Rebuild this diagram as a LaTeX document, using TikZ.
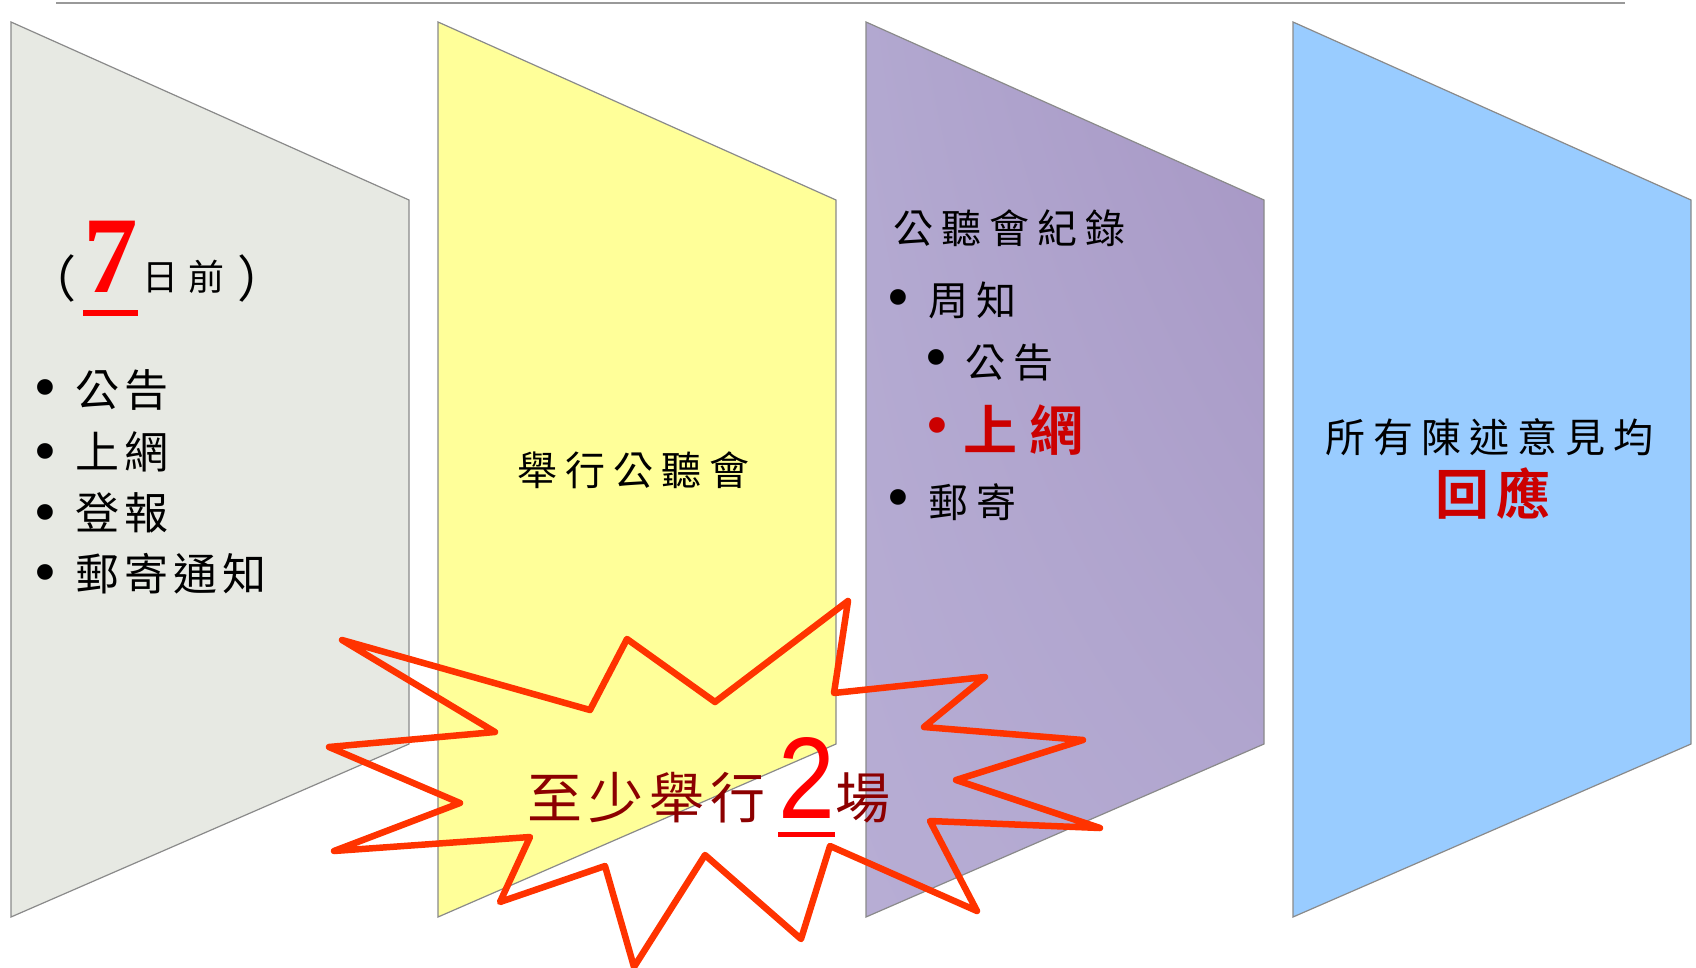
\documentclass[tikz,border=0pt]{standalone}
\usepackage{fontspec}
\usetikzlibrary{shadings}
\setmainfont{Liberation Serif}
\newfontfamily\sansnum{Liberation Sans}
\newfontfamily\bulfont{DejaVu Sans}
\newfontfamily\cjk{Noto Sans CJK TC}
\newfontfamily\cjkA[LetterSpace=20]{Noto Sans CJK TC}
\newfontfamily\cjkB[LetterSpace=12]{Noto Sans CJK TC}
\newfontfamily\cjkC[LetterSpace=28]{Noto Sans CJK TC}
\newfontfamily\cjkD[LetterSpace=11]{Noto Sans CJK TC}
\newfontfamily\cjkBold[LetterSpace=24,UprightFont={* Bold}]{Noto Sans CJK TC}
\newfontfamily\cjkBoldB[LetterSpace=14,UprightFont={* Bold}]{Noto Sans CJK TC}
\definecolor{panelgray}{HTML}{E7E9E3}
\definecolor{panelyellow}{HTML}{FFFF99}
\definecolor{panelblue}{HTML}{99CCFF}
\definecolor{panelborder}{HTML}{8A8A8A}
\definecolor{burstred}{HTML}{FF3300}
\definecolor{numred}{HTML}{FF0000}
\definecolor{hired}{HTML}{CC0000}
\definecolor{darkred}{HTML}{8C0000}
\definecolor{purpUL}{RGB}{178,168,208}
\definecolor{purpUR}{RGB}{166,150,196}
\definecolor{purpLL}{RGB}{183,173,212}
\definecolor{purpLR}{RGB}{178,168,208}
\begin{document}
\begin{tikzpicture}[x=1pt,y=-1pt,
  panel/.style={draw=panelborder, line width=1.2pt},
  txt/.style={inner sep=0pt, outer sep=0pt, anchor=west},
  bul/.style={inner sep=0pt, outer sep=0pt, font=\bulfont\fontsize{54}{54}\selectfont},
  burst/.style={draw=burstred, line width=6.5pt, line join=round},
  uline/.style={line width=6pt, draw=numred},
  fA/.style={font=\cjkA\fontsize{40}{40}\selectfont},
  fB/.style={font=\cjkB\fontsize{44}{44}\selectfont},
  fP/.style={font=\cjk\fontsize{50}{50}\selectfont}]
\useasboundingbox (0,0) rectangle (1696,968);
% top rule
\draw[color=black!40, line width=1.5pt] (56,3) -- (1625,3);
% panels
\path[panel, fill=panelgray] (11,22) -- (409,200) -- (409,744) -- (11,917) -- cycle;
\path[panel, fill=panelyellow] (438,22) -- (836,200) -- (836,744) -- (438,917) -- cycle;
\shade[upper left=purpUL, upper right=purpUR, lower left=purpLL, lower right=purpLR]
  (866,22) -- (1264,200) -- (1264,744) -- (866,917) -- cycle;
\draw[panel] (866,22) -- (1264,200) -- (1264,744) -- (866,917) -- cycle;
\path[panel, fill=panelblue] (1293,22) -- (1691,200) -- (1691,744) -- (1293,917) -- cycle;
% starburst
\draw[burst] (342,640) -- (590,710) -- (627,639) -- (715,702) -- (848,601) -- (834,693)
  -- (985,677) -- (924,727) -- (1083,740) -- (956,780) -- (1100,828) -- (930,821)
  -- (977,911) -- (830,846) -- (801,939) -- (705,855) -- (634,967) -- (605,866)
  -- (500,902) -- (530,837) -- (334,851) -- (460,803) -- (329,747) -- (495,732) -- cycle;
% panel 1
\node[txt, fP] (lp) at (27,279) {（};
\node[inner sep=0pt, anchor=base west, text=numred] (seven) at (83,292) {\fontsize{109}{109}\selectfont\bfseries 7};
\draw[uline] ([yshift=-21pt]seven.base west) -- ([yshift=-21pt]seven.base east);
\node[txt] (days) at (142,277) {\cjkC\fontsize{36}{36}\selectfont 日前};
\node[txt, fP] (rp) at (237,279) {）};
\node[bul] (b11) at (45,394) {•};
\node[txt, fB] (t11) at (75,390) {公告};
\node[bul] (b12) at (45,458) {•};
\node[txt, fB] (t12) at (75,452) {上網};
\node[bul] (b13) at (45,519) {•};
\node[txt, fB] (t13) at (75,513) {登報};
\node[bul] (b14) at (45,579) {•};
\node[txt, fB] (t14) at (75,574) {郵寄通知};
% panel 2
\node[txt, fA] (hold) at (517,470) {舉行公聽會};
% panel 3
\node[txt, fA] (rec) at (893,228) {公聽會紀錄};
\node[bul] (b31) at (898,304) {•};
\node[txt, fA] (t31) at (928,300) {周知};
\node[bul] (b32) at (936,364) {•};
\node[txt, fA] (t32) at (965,362) {公告};
\node[bul, text=hired] (b33) at (937,432) {•};
\node[txt, text=hired, font=\cjkBold\fontsize{54}{54}\selectfont] (t33) at (963,430) {上網};
\node[bul] (b34) at (898,504) {•};
\node[txt, fA] (t34) at (928,502) {郵寄};
% panel 4
\node[txt, fA] (all) at (1325,437) {所有陳述意見均};
\node[txt, text=hired, font=\cjkBoldB\fontsize{54}{54}\selectfont] (resp) at (1435,494) {回應};
% burst text
\node[inner sep=0pt, anchor=base west, text=darkred, font=\cjkD\fontsize{55}{55}\selectfont] (least) at (527,818) {至少舉行};
\node[inner sep=0pt, anchor=base west, text=numred, font=\sansnum\fontsize{116}{116}\selectfont, xscale=0.88] (two) at (778,818) {2};
\draw[uline, line width=5.5pt] ([yshift=-16.5pt]two.base west) -- ([yshift=-16.5pt]two.base east);
\node[inner sep=0pt, anchor=base west, text=darkred, font=\cjkD\fontsize{55}{55}\selectfont] (field) at (835,818) {場};
\end{tikzpicture}
\end{document}
